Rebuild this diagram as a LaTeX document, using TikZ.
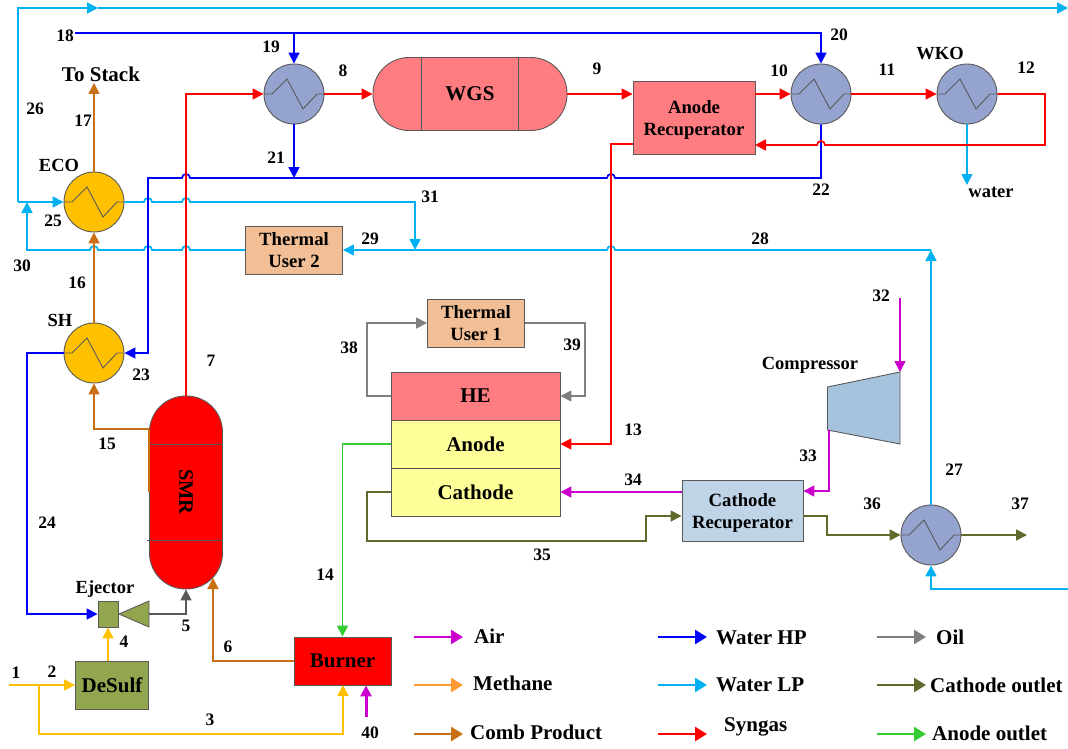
\documentclass[tikz,border=0pt]{standalone}
\usepackage{fontspec}
\setmainfont{Liberation Serif}
\usepackage{tikz}
\usetikzlibrary{arrows.meta,calc}
\definecolor{fcRed}{HTML}{FF0000}
\definecolor{fcPink}{HTML}{FF7C80}
\definecolor{fcHP}{HTML}{0000FF}
\definecolor{fcLP}{HTML}{00B0F0}
\definecolor{fcGold}{HTML}{FFC000}
\definecolor{fcMeth}{HTML}{FF9933}
\definecolor{fcComb}{HTML}{C96F14}
\definecolor{fcAir}{HTML}{CC00CC}
\definecolor{fcOil}{HTML}{7F7F7F}
\definecolor{fcOlive}{HTML}{5E6B2D}
\definecolor{fcGreen}{HTML}{33CC33}
\definecolor{fcHx}{HTML}{95A3CF}
\definecolor{fcTan}{HTML}{F1BE95}
\definecolor{fcMoss}{HTML}{92A650}
\definecolor{fcLemon}{HTML}{FFFF99}
\definecolor{fcPale}{HTML}{C0D4E8}
\definecolor{fcSteel}{HTML}{A5C3DD}
\definecolor{fcEdge}{HTML}{595959}
\tikzset{
  unit/.style={draw=fcEdge, line width=0.9pt, rectangle, align=center, font=\fontsize{18.7}{22}\selectfont\bfseries, inner sep=0pt},
  hx/.style={draw=fcEdge, line width=0.9pt, circle, minimum size=60pt, inner sep=0pt},
  lbl/.style={font=\fontsize{17.5}{20}\selectfont\bfseries, inner sep=0pt},
  tag/.style={font=\fontsize{18.5}{22}\selectfont\bfseries, inner sep=0pt},
  flow/.style={line width=1.7pt, -{Triangle[length=11pt,width=11pt]}},
  flat/.style={line width=1.7pt}
}
% hop of a line over another one, going to the left or to the right
\newcommand{\hopl}[2]{-- ({#1+4},#2) arc[start angle=0,end angle=180,radius=4pt]}
\newcommand{\hopr}[2]{-- ({#1-4},#2) arc[start angle=180,end angle=0,radius=4pt]}
% pushes the lines of a box down
\newcommand{\lift}[1]{\rule{0pt}{#1pt}}
\begin{document}
\begin{tikzpicture}[x=1pt,y=-1pt]
    \useasboundingbox (0,0) rectangle (1068,749);
    % heat exchangers
    \node[hx, fill=fcHx] (hxA) at (294,94) {};
    \node[hx, fill=fcHx] (hxB) at (821,94) {};
    \node[hx, fill=fcHx] (wko) at (967,94) {};
    \node[hx, fill=fcGold] (eco) at (94,202) {};
    \node[hx, fill=fcGold] (sh) at (94,353) {};
    \node[hx, fill=fcHx] (hxC) at (931,535) {};
    \foreach \n in {hxA,hxB,wko,eco,sh,hxC}
      \draw[fcEdge, line width=0.9pt] ($(\n)+(-30,0)$) -- ++(8,0) -- ++(15,-15) -- ++(16,30) -- ++(14,-15) -- ++(7,0);
    % reactors
    \node[unit, fill=fcPink, minimum width=194pt, minimum height=73pt, rounded corners=36pt, font=\fontsize{21}{25}\selectfont\bfseries] (wgs) at (470,94) {WGS};
    \draw[fcEdge, line width=0.9pt] (421,57.5) -- (421,130.5) (518,57.5) -- (518,130.5);
    \node[unit, fill=fcRed, minimum width=73pt, minimum height=193pt, rounded corners=36pt] (smr) at (186,492.5) {};
    \node[font=\fontsize{20.5}{24}\selectfont\bfseries, rotate=-90] (smrText) at (186,492) {SMR};
    \draw[fcEdge, line width=0.9pt] (149,444) -- (222,444) (147,540) -- (222,540);
    % boxes
    \node[unit, fill=fcPink, minimum width=122pt, minimum height=73pt] (anRec) at (694,117.5) {\lift{17}Anode\\Recuperator};
    \node[unit, fill=fcTan, minimum width=97pt, minimum height=48pt] (userB) at (294,250) {Thermal\\User 2};
    \node[unit, fill=fcTan, minimum width=97pt, minimum height=48pt] (userA) at (476,323) {Thermal\\User 1};
    \node[unit, fill=fcPink, minimum width=169pt, minimum height=48pt, font=\fontsize{21}{25}\selectfont\bfseries] (he) at (475.5,396) {HE};
    \node[unit, fill=fcLemon, minimum width=169pt, minimum height=48pt, font=\fontsize{21}{25}\selectfont\bfseries] (anode) at (475.5,444) {Anode};
    \node[unit, fill=fcLemon, minimum width=169pt, minimum height=48pt, font=\fontsize{21}{25}\selectfont\bfseries] (cathode) at (475.5,492) {Cathode};
    \node[unit, fill=fcPale, minimum width=121pt, minimum height=61pt] (caRec) at (742.5,510.5) {\lift{17}Cathode\\Recuperator};
    \node[unit, fill=fcMoss, minimum width=73pt, minimum height=48pt, font=\fontsize{21}{25}\selectfont\bfseries] (desulf) at (112,685) {DeSulf};
    \node[unit, fill=fcRed, minimum width=97pt, minimum height=48pt, font=\fontsize{21}{25}\selectfont\bfseries] (burner) at (342.5,661) {Burner};
    \node[unit, fill=fcMoss, minimum width=20pt, minimum height=26pt] (ejector) at (108,614) {};
    \draw[fcEdge, fill=fcMoss, line width=0.9pt] (119,614) -- (149,601) -- (149,627) -- cycle;
    \coordinate (nozzle) at (149,614);
    \draw[fcEdge, fill=fcSteel, line width=0.9pt] (827.5,387) -- (900,372) -- (900,444) -- (827.5,430) -- cycle;
    \coordinate (compIn) at (900,372);
    \coordinate (compOut) at (829,430);
    % free ends
    \coordinate (topEnd) at (1068,8);
    \coordinate (topMid) at (98,8);
    \coordinate (joinLP) at (27,202);
    \coordinate (bend) at (18,202);
    \coordinate (hpStart) at (75,33);
    \coordinate (stack) at (94,83);
    \coordinate (drain) at (967,185);
    \coordinate (lpCorner) at (931,250);
    \coordinate (lpIn) at (1068,589);
    \coordinate (airIn) at (900,298);
    \coordinate (feed) at (9,685);
    \coordinate (feedSplit) at (39,685);
    \coordinate (airBurner) at (366,717);
    \coordinate (exhaust) at (1027,535);
    \coordinate (tee) at (415,250);
    % water LP
    \draw[flow, fcLP] (bend) -- (eco.west);
    \draw[flow, fcLP] (bend) |- (topMid);
    \draw[flow, fcLP] (topMid) -- (topEnd);
    \draw[flow, fcLP] (eco.east) \hopr{148}{202} \hopr{186}{202} -| (tee);
    \draw[flow, fcLP] (userB.west) \hopl{186}{250} \hopl{148}{250} \hopl{94}{250} -| (joinLP);
    \draw[flow, fcLP] (hxC.north) -- (lpCorner);
    \draw[flow, fcLP] (lpCorner) \hopl{611}{250} -- (userB.east);
    \draw[flow, fcLP] (lpIn) -| (hxC.south);
    \draw[flow, fcLP] (wko.south) -- (drain);
    % water HP
    \draw[flow, fcHP] (hpStart) -| (hxB.north);
    \draw[flow, fcHP] (hpStart -| hxA) -- (hxA.north);
    \draw[flow, fcHP] (hxA.south) -- (hxA |- 0,178);
    \draw[flow, fcHP] (hxB.south) -- (821,178) \hopl{611}{178} \hopl{186}{178} -- (148,178) -- (148,353) -- (sh.east);
    \draw[flow, fcHP] (sh.west) -- (27,353) |- (ejector.west);
    % syngas
    \draw[flow, fcRed] (smr.north) |- (hxA.west);
    \draw[flow, fcRed] (hxA.east) -- (wgs.west);
    \draw[flow, fcRed] (wgs.east) -- (wgs.east -| anRec.west);
    \draw[flow, fcRed] (anRec.east |- hxB) -- (hxB.west);
    \draw[flow, fcRed] (hxB.east) -- (wko.west);
    \draw[flow, fcRed] (wko.east) -- (1045,94) -- (1045,145) \hopl{821}{145} -- (755,145);
    \draw[flow, fcRed] (633,144) -- (611,144) |- (anode.east);
    % comb product
    \draw[flow, fcComb] (eco.north) -- (stack);
    \draw[flow, fcComb] (sh.north) -- (eco.south);
    \draw[flat, fcComb] (149,492) -- (149,429);
    \draw[flow, fcComb] (149,429) -| (sh.south);
    \draw[flow, fcComb] (burner.west) -| (213,578);
    % methane
    \draw[flow, fcGold] (feed) -- (desulf.west);
    \draw[flow, fcGold] (feedSplit) |- (343,734) -- (343,685);
    \draw[flow, fcGold] (desulf.north -| ejector) -- (ejector.south);
    % ejector outlet
    \draw[flow, fcEdge] (nozzle) -| (smr.south);
    % air
    \draw[flow, fcAir, line width=3pt] (airBurner) -- (airBurner |- burner.south);
    \draw[flow, fcAir] (airIn) -- (compIn);
    \draw[flow, fcAir] (compOut) |- (caRec.east |- 0,491);
    \draw[flow, fcAir] (caRec.west |- cathode) -- (cathode.east);
    % anode and cathode outlet
    \draw[flow, fcGreen] (anode.west) -| (burner.north);
    \draw[flow, fcOlive] (cathode.west) -- (367,492) |- (646,541) |- (caRec.west |- 0,516);
    \draw[flow, fcOlive] (caRec.east |- 0,516) -- (827,516) |- (hxC.west);
    \draw[flow, fcOlive] (hxC.east) -- (exhaust);
    % oil
    \draw[flow, fcOil] (he.west) -- (367,396) |- (userA.west);
    \draw[flow, fcOil] (userA.east) -- (585,323) |- (he.east);
    % stream numbers
    \foreach \x/\y/\t in {16/673/1,52/672/2,210/720/3,124/642/4,186/626/5,228/647/6,211/361/7,343/71/8,597/69/9,
        779/71/10,887/70/11,1026/68/12,633/430/13,325/575/14,107/444/15,77/283/16,83/121/17,65/36/18,271/47/19,
        839/35/20,276/158/21,821/190/22,141/375/23,47/523/24,53/221/25,35/109/26,954/470/27,760/239/28,370/239/29,
        22/266/30,430/197/31,881/296/32,808/456/33,633/480/34,542/555/35,872/504/36,1020/504/37,349/348/38,572/345/39,370/733/40}
      \node[lbl] (num\t) at (\x,\y) {\t};
    % names
    \node[tag, font=\fontsize{21}{25}\selectfont\bfseries] (toStack) at (101,74) {To Stack};
    \node[tag] (ecoName) at (59,165) {ECO};
    \node[tag] (shName) at (60,320) {SH};
    \node[tag] (ejName) at (105,589) {Ejector};
    \node[tag] (wkoName) at (940,54) {WKO};
    \node[tag] (waterName) at (991,192) {water};
    \node[tag] (compName) at (810,365) {Compressor};
    % legend
    \foreach \nm/\col/\x/\y/\txt/\ty/\tx in {air/fcAir/414/637/Air/636/474,meth/fcMeth/414/685/Methane/683/473,comb/fcComb/414/734/Comb Product/732/470,
        hp/fcHP/658/637/Water HP/638/716,lp/fcLP/658/685/Water LP/685/716,syn/fcRed/658/734/Syngas/727/724,
        oil/fcOil/877/637/Oil/637/936,cat/fcOlive/877/685/Cathode outlet/685/930,ano/fcGreen/877/734/Anode outlet/733/932}{
      \coordinate (\nm A) at (\x,\y);
      \coordinate (\nm B) at (\x+49,\y);
      \draw[flow, \col, line width=2.6pt, -{Triangle[length=12pt,width=14pt]}] (\nm A) -- (\nm B);
      \node[tag, font=\fontsize{21}{25}\selectfont\bfseries, anchor=west] (\nm Text) at (\tx,\ty) {\txt};
    }
  \end{tikzpicture}
\end{document}
